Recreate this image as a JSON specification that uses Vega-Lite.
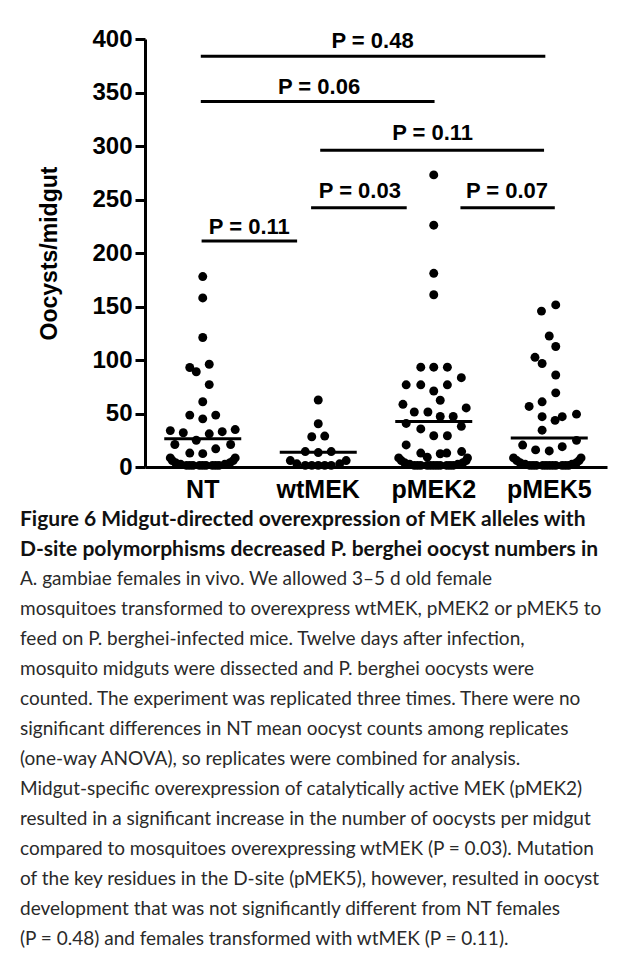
{
  "$schema": "https://vega.github.io/schema/vega-lite/v6.json",
  "width": 462,
  "height": 428,
  "autosize": {"type": "none"},
  "padding": {"left": 145, "top": 39, "right": 18, "bottom": 495},
  "background": "white",
  "config": {"view": {"stroke": null}, "font": "Liberation Sans"},
  "title": {
    "text": ["Figure 6 Midgut-directed overexpression of MEK alleles with", "D-site polymorphisms decreased P. berghei oocyst numbers in"],
    "subtitle": [
      "A. gambiae females in vivo. We allowed 3–5 d old female",
      "mosquitoes transformed to overexpress wtMEK, pMEK2 or pMEK5 to",
      "feed on P. berghei-infected mice. Twelve days after infection,",
      "mosquito midguts were dissected and P. berghei oocysts were",
      "counted. The experiment was replicated three times. There were no",
      "significant differences in NT mean oocyst counts among replicates",
      "(one-way ANOVA), so replicates were combined for analysis.",
      "Midgut-specific overexpression of catalytically active MEK (pMEK2)",
      "resulted in a significant increase in the number of oocysts per midgut",
      "compared to mosquitoes overexpressing wtMEK (P = 0.03). Mutation",
      "of the key residues in the D-site (pMEK5), however, resulted in oocyst",
      "development that was not significantly different from NT females",
      "(P = 0.48) and females transformed with wtMEK (P = 0.11)."
    ],
    "orient": "bottom",
    "anchor": "start",
    "frame": "group",
    "dx": -125,
    "offset": 7,
    "font": "Lato",
    "fontSize": 21,
    "fontWeight": "bold",
    "lineHeight": 30,
    "color": "#111111",
    "subtitleFont": "Lato",
    "subtitleFontSize": 19,
    "subtitleFontWeight": "normal",
    "subtitleLineHeight": 30,
    "subtitleColor": "#2a2a2a",
    "subtitlePadding": 10
  },
  "datasets": {
    "dots": [
      {"group": "NT", "value": 178, "lane": 0},
      {"group": "NT", "value": 158, "lane": 0},
      {"group": "NT", "value": 121, "lane": 0},
      {"group": "NT", "value": 93, "lane": -2},
      {"group": "NT", "value": 89, "lane": -1},
      {"group": "NT", "value": 96, "lane": 1},
      {"group": "NT", "value": 77, "lane": 1},
      {"group": "NT", "value": 61, "lane": 0},
      {"group": "NT", "value": 48.5, "lane": -2},
      {"group": "NT", "value": 45, "lane": 0},
      {"group": "NT", "value": 48.5, "lane": 2},
      {"group": "NT", "value": 34, "lane": -5},
      {"group": "NT", "value": 32, "lane": -3},
      {"group": "NT", "value": 25, "lane": -1},
      {"group": "NT", "value": 31, "lane": 1},
      {"group": "NT", "value": 33, "lane": 3},
      {"group": "NT", "value": 35, "lane": 5},
      {"group": "NT", "value": 21, "lane": -4.3},
      {"group": "NT", "value": 13, "lane": -2},
      {"group": "NT", "value": 12.5, "lane": 0},
      {"group": "NT", "value": 17, "lane": 2},
      {"group": "NT", "value": 21, "lane": 4.3},
      {"group": "NT", "value": 8.5, "lane": -5},
      {"group": "NT", "value": 8.5, "lane": 5},
      {"group": "NT", "value": 6, "lane": -4.7},
      {"group": "NT", "value": 6, "lane": 4.7},
      {"group": "NT", "value": 4, "lane": -4.2},
      {"group": "NT", "value": 4, "lane": 4.2},
      {"group": "NT", "value": 2.5, "lane": -3.4},
      {"group": "NT", "value": 2.5, "lane": 3.4},
      {"group": "NT", "value": 1.5, "lane": -2.5},
      {"group": "NT", "value": 1.5, "lane": -1.5},
      {"group": "NT", "value": 1.5, "lane": -0.5},
      {"group": "NT", "value": 1.5, "lane": 0.5},
      {"group": "NT", "value": 1.5, "lane": 1.5},
      {"group": "NT", "value": 1.5, "lane": 2.5},
      {"group": "NT", "value": 1.5, "lane": -2},
      {"group": "NT", "value": 1.5, "lane": 0},
      {"group": "NT", "value": 1.5, "lane": 2},
      {"group": "wtMEK", "value": 62.6, "lane": 0},
      {"group": "wtMEK", "value": 40.4, "lane": 0},
      {"group": "wtMEK", "value": 28.3, "lane": -1},
      {"group": "wtMEK", "value": 28.9, "lane": 1},
      {"group": "wtMEK", "value": 14.4, "lane": -2},
      {"group": "wtMEK", "value": 13.5, "lane": 0},
      {"group": "wtMEK", "value": 14.4, "lane": 2},
      {"group": "wtMEK", "value": 6, "lane": -4.3},
      {"group": "wtMEK", "value": 6, "lane": 4.3},
      {"group": "wtMEK", "value": 3, "lane": -3.3},
      {"group": "wtMEK", "value": 3, "lane": 3.3},
      {"group": "wtMEK", "value": 1.5, "lane": -2},
      {"group": "wtMEK", "value": 1.5, "lane": -1},
      {"group": "wtMEK", "value": 1.5, "lane": 0},
      {"group": "wtMEK", "value": 1.5, "lane": 1},
      {"group": "wtMEK", "value": 1.5, "lane": 2},
      {"group": "pMEK2", "value": 273, "lane": 0},
      {"group": "pMEK2", "value": 226, "lane": 0},
      {"group": "pMEK2", "value": 181, "lane": 0},
      {"group": "pMEK2", "value": 161, "lane": 0},
      {"group": "pMEK2", "value": 93.3, "lane": -2},
      {"group": "pMEK2", "value": 93.3, "lane": 0},
      {"group": "pMEK2", "value": 93.3, "lane": 2.1},
      {"group": "pMEK2", "value": 83.5, "lane": 4.25},
      {"group": "pMEK2", "value": 76.8, "lane": -4.25},
      {"group": "pMEK2", "value": 76.8, "lane": -2},
      {"group": "pMEK2", "value": 76.8, "lane": 2.1},
      {"group": "pMEK2", "value": 71, "lane": 0},
      {"group": "pMEK2", "value": 62.4, "lane": 1},
      {"group": "pMEK2", "value": 58.6, "lane": -4.75},
      {"group": "pMEK2", "value": 55.2, "lane": 5},
      {"group": "pMEK2", "value": 51.4, "lane": -3},
      {"group": "pMEK2", "value": 51.4, "lane": -0.9},
      {"group": "pMEK2", "value": 47.2, "lane": 1},
      {"group": "pMEK2", "value": 47.2, "lane": 3},
      {"group": "pMEK2", "value": 40.7, "lane": -4.25},
      {"group": "pMEK2", "value": 38, "lane": 4.25},
      {"group": "pMEK2", "value": 35.6, "lane": -2},
      {"group": "pMEK2", "value": 29.2, "lane": 0},
      {"group": "pMEK2", "value": 29.2, "lane": 2.1},
      {"group": "pMEK2", "value": 20.6, "lane": -4.25},
      {"group": "pMEK2", "value": 13, "lane": -2},
      {"group": "pMEK2", "value": 9.2, "lane": -1},
      {"group": "pMEK2", "value": 12.4, "lane": 1},
      {"group": "pMEK2", "value": 13, "lane": 2},
      {"group": "pMEK2", "value": 14.4, "lane": 4.3},
      {"group": "pMEK2", "value": 8.5, "lane": -5.4},
      {"group": "pMEK2", "value": 8.5, "lane": 5.2},
      {"group": "pMEK2", "value": 6, "lane": -5},
      {"group": "pMEK2", "value": 6, "lane": 5},
      {"group": "pMEK2", "value": 4, "lane": -4.5},
      {"group": "pMEK2", "value": 4, "lane": 4.5},
      {"group": "pMEK2", "value": 2.5, "lane": -3.7},
      {"group": "pMEK2", "value": 2.5, "lane": 3.7},
      {"group": "pMEK2", "value": 1.5, "lane": -3},
      {"group": "pMEK2", "value": 1.5, "lane": -2},
      {"group": "pMEK2", "value": 1.5, "lane": -1},
      {"group": "pMEK2", "value": 1.5, "lane": 0},
      {"group": "pMEK2", "value": 1.5, "lane": 1},
      {"group": "pMEK2", "value": 1.5, "lane": 2},
      {"group": "pMEK2", "value": 1.5, "lane": 3},
      {"group": "pMEK2", "value": 1.5, "lane": -2.5},
      {"group": "pMEK2", "value": 1.5, "lane": -0.5},
      {"group": "pMEK2", "value": 1.5, "lane": 0.5},
      {"group": "pMEK2", "value": 1.5, "lane": 2.5},
      {"group": "pMEK5", "value": 145.7, "lane": -1.2},
      {"group": "pMEK5", "value": 151.5, "lane": 1},
      {"group": "pMEK5", "value": 122.4, "lane": 0},
      {"group": "pMEK5", "value": 112.6, "lane": 1},
      {"group": "pMEK5", "value": 102.5, "lane": -2.2},
      {"group": "pMEK5", "value": 96.7, "lane": -1.1},
      {"group": "pMEK5", "value": 86, "lane": 1},
      {"group": "pMEK5", "value": 69.3, "lane": 1},
      {"group": "pMEK5", "value": 56.6, "lane": -3.1},
      {"group": "pMEK5", "value": 60.9, "lane": -1.1},
      {"group": "pMEK5", "value": 47, "lane": -1.1},
      {"group": "pMEK5", "value": 43.6, "lane": 0.9},
      {"group": "pMEK5", "value": 47, "lane": 2},
      {"group": "pMEK5", "value": 49.4, "lane": 4.2},
      {"group": "pMEK5", "value": 34.4, "lane": -1.1},
      {"group": "pMEK5", "value": 20.5, "lane": -4.1},
      {"group": "pMEK5", "value": 16, "lane": -2.1},
      {"group": "pMEK5", "value": 15, "lane": 0},
      {"group": "pMEK5", "value": 19, "lane": 2},
      {"group": "pMEK5", "value": 24.9, "lane": 4.2},
      {"group": "pMEK5", "value": 8.5, "lane": -5.5},
      {"group": "pMEK5", "value": 8.5, "lane": 4.9},
      {"group": "pMEK5", "value": 6, "lane": -5},
      {"group": "pMEK5", "value": 6, "lane": 4.6},
      {"group": "pMEK5", "value": 4, "lane": -4.5},
      {"group": "pMEK5", "value": 4, "lane": 4.2},
      {"group": "pMEK5", "value": 2.5, "lane": -3.7},
      {"group": "pMEK5", "value": 2.5, "lane": 3.5},
      {"group": "pMEK5", "value": 1.5, "lane": -3},
      {"group": "pMEK5", "value": 1.5, "lane": -2},
      {"group": "pMEK5", "value": 1.5, "lane": -1},
      {"group": "pMEK5", "value": 1.5, "lane": 0},
      {"group": "pMEK5", "value": 1.5, "lane": 1},
      {"group": "pMEK5", "value": 1.5, "lane": 2},
      {"group": "pMEK5", "value": 1.5, "lane": 3},
      {"group": "pMEK5", "value": 1.5, "lane": -2.5},
      {"group": "pMEK5", "value": 1.5, "lane": -0.5},
      {"group": "pMEK5", "value": 1.5, "lane": 0.5},
      {"group": "pMEK5", "value": 1.5, "lane": 2.5}
    ],
    "means": [
      {"group": "NT", "value": 26.5},
      {"group": "wtMEK", "value": 13.9},
      {"group": "pMEK2", "value": 42.5},
      {"group": "pMEK5", "value": 27}
    ],
    "bars": [
      {"from": 0.983, "to": 3.966, "value": 383.8, "lx": 2.47, "ly": 398.5, "label": "P = 0.48"},
      {"from": 0.983, "to": 3.007, "value": 341.7, "lx": 2.007, "ly": 355.6, "label": "P = 0.06"},
      {"from": 2.017, "to": 3.955, "value": 296.1, "lx": 2.99, "ly": 312.3, "label": "P = 0.11"},
      {"from": 1.938, "to": 2.766, "value": 242.4, "lx": 2.36, "ly": 258, "label": "P = 0.03"},
      {"from": 3.231, "to": 4.048, "value": 242.4, "lx": 3.634, "ly": 258, "label": "P = 0.07"},
      {"from": 0.99, "to": 1.817, "value": 211.3, "lx": 1.403, "ly": 224.5, "label": "P = 0.11"}
    ]
  },
  "layer": [
    {
      "data": {"name": "dots"},
      "mark": {"type": "circle", "size": 80, "opacity": 1, "color": "black", "clip": false},
      "encoding": {
        "x": {
          "field": "group", "type": "nominal",
          "scale": {"type": "band", "domain": ["NT", "wtMEK", "pMEK2", "pMEK5"], "paddingInner": 0, "paddingOuter": 0},
          "axis": {"title": null, "ticks": false, "labelAngle": 0, "labelFont": "Liberation Sans", "labelFontSize": 25, "labelFontWeight": "bold", "labelColor": "black", "labelPadding": 10, "domainWidth": 3, "domainColor": "black"}
        },
        "xOffset": {"field": "lane", "type": "quantitative", "scale": {"domain": [-8.9, 8.9]}},
        "y": {
          "field": "value", "type": "quantitative",
          "scale": {"domain": [0, 400], "nice": false},
          "axis": {
            "title": "Oocysts/midgut",
            "values": [0, 25, 50, 75, 100, 125, 150, 175, 200, 225, 250, 275, 300, 325, 350, 375, 400],
            "labelExpr": "datum.value % 50 === 0 ? datum.label : ''",
            "tickSize": {"condition": {"test": "datum.value % 50 === 0", "value": 10}, "value": 6},
            "tickWidth": 3, "tickColor": "black", "domainWidth": 3, "domainColor": "black",
            "grid": false, "labelOverlap": false, "labelFlush": false,
            "labelFont": "Liberation Sans", "labelFontSize": 24, "labelFontWeight": "bold", "labelColor": "black", "labelPadding": 3,
            "titleFont": "Liberation Sans", "titleFontSize": 23, "titleFontWeight": "bold", "titleColor": "black", "titlePadding": 30
          }
        }
      }
    },
    {
      "data": {"name": "means"},
      "mark": {"type": "tick", "size": 77, "thickness": 3, "color": "black", "opacity": 1},
      "encoding": {
        "x": {"field": "group", "type": "nominal", "scale": {"type": "band", "domain": ["NT", "wtMEK", "pMEK2", "pMEK5"], "paddingInner": 0, "paddingOuter": 0}, "axis": null},
        "y": {"field": "value", "type": "quantitative"}
      }
    },
    {
      "data": {"name": "bars"},
      "mark": {"type": "rule", "strokeWidth": 3, "color": "black"},
      "encoding": {
        "x": {"field": "from", "type": "quantitative", "scale": {"domain": [0.5, 4.5], "nice": false, "zero": false}, "axis": null},
        "x2": {"field": "to"},
        "y": {"field": "value", "type": "quantitative"}
      }
    },
    {
      "data": {"name": "bars"},
      "mark": {"type": "text", "font": "Liberation Sans", "fontSize": 22, "fontWeight": "bold", "baseline": "middle", "align": "center", "color": "black"},
      "encoding": {
        "x": {"field": "lx", "type": "quantitative", "scale": {"domain": [0.5, 4.5], "nice": false, "zero": false}, "axis": null},
        "y": {"field": "ly", "type": "quantitative"},
        "text": {"field": "label"}
      }
    }
  ],
  "resolve": {"scale": {"x": "independent"}}
}
